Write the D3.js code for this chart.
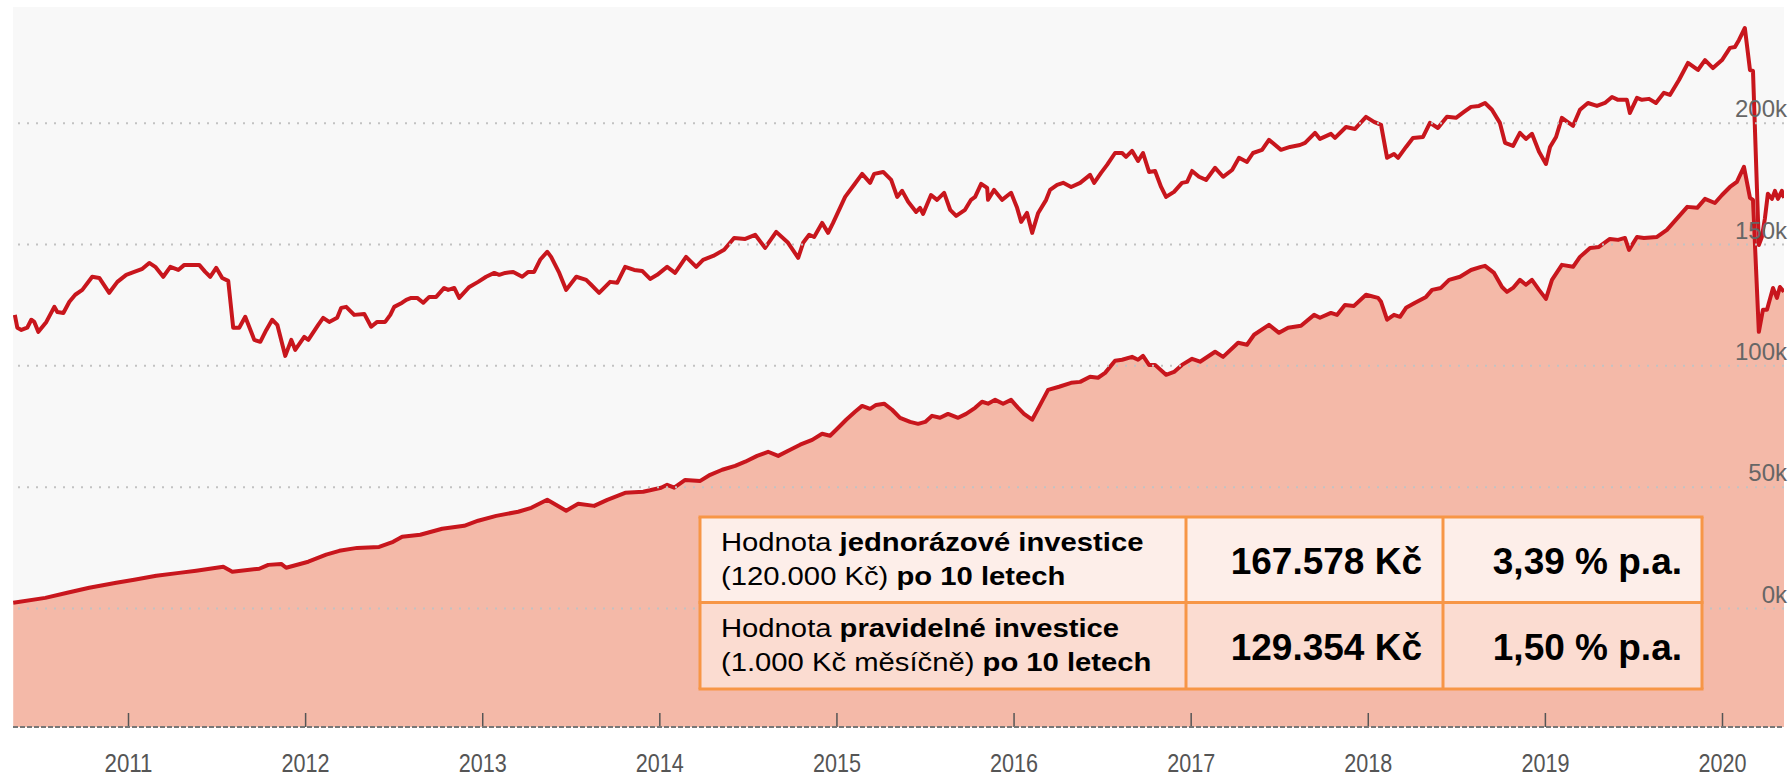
<!DOCTYPE html>
<html>
<head>
<meta charset="utf-8">
<script src="https://cdn.jsdelivr.net/npm/d3@7"></script>
<style>
  body { margin: 0; background: #fff; }
  svg { display: block; font-family: "Liberation Sans", Arial, sans-serif; }
</style>
</head>
<body>
<script>

var width = 1789;
var height = 779;

// year ticks on the bottom, value ticks (in thousands) on the right
var yearTicks = [2011, 2012, 2013, 2014, 2015, 2016, 2017, 2018, 2019, 2020];
var valueTicks = [0, 50, 100, 150, 200];

// jednorázová investice (120.000 Kč), [year, value in k]
var lumpSum = [
  [2010.361,120.8],[2010.375,115.5],[2010.398,114.6],[2010.431,115.5],[2010.454,118.8],[2010.471,117.9],[2010.494,113.8],[2010.539,117.9],
  [2010.584,124.1],[2010.601,122.0],[2010.635,121.6],[2010.669,126.2],[2010.702,129.1],[2010.742,131.1],[2010.798,136.5],[2010.838,136.0],
  [2010.894,129.9],[2010.940,134.4],[2010.990,137.3],[2011.035,138.5],[2011.081,139.8],[2011.120,142.2],[2011.154,140.6],[2011.199,136.5],
  [2011.239,140.6],[2011.284,139.3],[2011.318,141.4],[2011.402,141.4],[2011.436,138.5],[2011.464,136.5],[2011.498,140.2],[2011.532,136.0],
  [2011.566,134.8],[2011.594,115.5],[2011.628,115.5],[2011.662,120.0],[2011.713,110.5],[2011.747,109.7],[2011.781,114.6],[2011.814,118.8],
  [2011.843,116.7],[2011.888,103.9],[2011.922,110.5],[2011.944,106.4],[2011.995,111.7],[2012.018,110.5],[2012.074,116.7],[2012.102,119.6],
  [2012.136,117.9],[2012.181,119.6],[2012.204,123.7],[2012.232,124.1],[2012.277,120.8],[2012.334,121.2],[2012.373,115.9],[2012.407,117.9],
  [2012.452,117.9],[2012.481,120.8],[2012.503,124.1],[2012.548,125.8],[2012.571,127.0],[2012.599,127.8],[2012.633,127.8],[2012.667,125.8],
  [2012.701,128.2],[2012.740,128.2],[2012.785,131.9],[2012.808,131.1],[2012.842,131.9],[2012.870,127.8],[2012.927,132.3],[2012.977,134.4],
  [2013.022,136.5],[2013.068,138.1],[2013.096,137.3],[2013.130,138.1],[2013.175,138.5],[2013.226,136.5],[2013.260,138.5],[2013.293,138.5],
  [2013.327,143.5],[2013.367,146.8],[2013.389,144.7],[2013.435,138.1],[2013.474,131.1],[2013.531,136.5],[2013.587,135.2],[2013.615,133.2],
  [2013.660,129.9],[2013.722,134.4],[2013.762,134.0],[2013.807,140.6],[2013.858,139.3],[2013.903,138.9],[2013.948,135.6],[2013.988,137.3],
  [2014.044,140.6],[2014.089,138.1],[2014.151,144.7],[2014.208,140.6],[2014.247,143.5],[2014.304,145.1],[2014.366,147.6],[2014.422,152.5],
  [2014.485,152.1],[2014.541,153.8],[2014.597,148.4],[2014.660,155.0],[2014.727,150.5],[2014.784,144.3],[2014.812,150.5],[2014.846,153.8],
  [2014.874,152.9],[2014.919,158.7],[2014.953,154.6],[2014.981,158.7],[2015.049,169.4],[2015.100,174.4],[2015.145,178.9],[2015.190,175.2],
  [2015.213,178.9],[2015.264,179.7],[2015.309,176.4],[2015.343,169.4],[2015.371,171.9],[2015.405,167.4],[2015.450,163.2],[2015.472,164.9],
  [2015.489,162.4],[2015.534,170.2],[2015.568,168.2],[2015.608,171.1],[2015.642,164.1],[2015.676,161.6],[2015.726,164.1],[2015.760,168.2],
  [2015.783,169.4],[2015.817,174.8],[2015.851,173.1],[2015.856,168.2],[2015.890,172.3],[2015.935,168.2],[2015.986,171.1],[2016.020,164.9],
  [2016.043,159.1],[2016.076,162.8],[2016.105,154.6],[2016.139,162.8],[2016.184,168.2],[2016.206,172.3],[2016.246,174.4],[2016.280,175.2],
  [2016.325,173.5],[2016.376,175.2],[2016.432,178.5],[2016.455,175.2],[2016.494,179.3],[2016.528,182.6],[2016.573,187.5],[2016.613,187.5],
  [2016.635,185.9],[2016.669,188.4],[2016.703,184.2],[2016.731,187.5],[2016.765,179.7],[2016.799,180.1],[2016.833,173.5],[2016.861,169.4],
  [2016.906,171.5],[2016.951,175.2],[2016.980,175.6],[2017.008,180.1],[2017.047,177.7],[2017.087,176.4],[2017.138,181.4],[2017.183,177.7],
  [2017.234,180.5],[2017.273,185.5],[2017.318,183.8],[2017.352,187.5],[2017.403,188.8],[2017.442,192.9],[2017.510,188.8],[2017.561,190.0],
  [2017.617,190.8],[2017.646,191.7],[2017.702,195.8],[2017.730,193.3],[2017.792,195.4],[2017.815,193.7],[2017.877,198.2],[2017.928,197.4],
  [2017.990,202.4],[2018.035,200.3],[2018.075,199.1],[2018.109,185.5],[2018.148,187.1],[2018.171,185.5],[2018.216,190.0],[2018.255,193.7],
  [2018.312,194.1],[2018.351,199.9],[2018.396,197.8],[2018.447,202.4],[2018.498,202.0],[2018.543,204.4],[2018.583,206.5],[2018.628,206.9],
  [2018.662,208.1],[2018.701,205.3],[2018.746,199.9],[2018.775,191.7],[2018.820,190.4],[2018.859,195.8],[2018.893,193.3],[2018.927,195.4],
  [2018.967,188.0],[2019.006,183.0],[2019.029,190.0],[2019.063,194.1],[2019.096,202.0],[2019.159,198.7],[2019.198,205.3],[2019.243,208.1],
  [2019.294,206.9],[2019.339,208.1],[2019.379,210.6],[2019.413,209.4],[2019.463,209.4],[2019.480,204.0],[2019.520,210.2],[2019.548,209.4],
  [2019.588,209.8],[2019.627,208.1],[2019.672,212.3],[2019.706,211.4],[2019.757,217.6],[2019.808,224.6],[2019.864,221.7],[2019.904,225.8],
  [2019.949,222.5],[2020.000,225.8],[2020.045,230.8],[2020.073,231.2],[2020.096,234.1],[2020.129,239.0],[2020.158,221.7],[2020.175,221.3],
  [2020.208,149.6],[2020.225,152.9],[2020.242,160.4],[2020.259,170.7],[2020.282,168.6],[2020.299,171.9],[2020.316,168.6],[2020.338,171.9],
  [2020.350,169.0]
];

// pravidelná investice (1.000 Kč měsíčně), [year, value in k]
var regular = [
  [2010.352,2.2],[2010.533,4.2],[2010.657,6.3],[2010.781,8.4],[2010.934,10.4],[2011.035,11.7],[2011.160,13.3],[2011.289,14.5],
  [2011.385,15.4],[2011.538,17.0],[2011.589,15.0],[2011.741,16.2],[2011.792,17.8],[2011.865,18.2],[2011.893,16.6],[2012.018,19.1],
  [2012.119,22.0],[2012.193,23.6],[2012.294,24.8],[2012.418,25.2],[2012.497,27.3],[2012.548,29.4],[2012.650,30.2],[2012.774,32.7],
  [2012.898,33.9],[2012.977,36.0],[2013.079,38.0],[2013.203,39.7],[2013.277,41.3],[2013.367,44.6],[2013.474,40.1],[2013.542,43.0],
  [2013.632,42.1],[2013.706,44.6],[2013.807,47.5],[2013.909,47.9],[2014.010,49.6],[2014.044,50.8],[2014.084,49.6],[2014.146,52.8],
  [2014.231,52.4],[2014.287,54.9],[2014.355,57.0],[2014.428,58.6],[2014.485,60.3],[2014.552,62.7],[2014.614,64.4],[2014.671,62.7],
  [2014.739,65.2],[2014.795,67.3],[2014.863,69.3],[2014.919,71.8],[2014.964,71.0],[2015.010,74.3],[2015.055,77.6],[2015.105,80.9],
  [2015.145,83.3],[2015.190,82.1],[2015.224,83.7],[2015.269,84.2],[2015.314,81.7],[2015.359,78.4],[2015.416,76.7],[2015.461,75.9],
  [2015.501,76.7],[2015.540,79.2],[2015.585,78.4],[2015.630,80.0],[2015.687,78.4],[2015.732,80.0],[2015.783,82.5],[2015.822,85.0],
  [2015.856,84.2],[2015.896,85.8],[2015.941,84.2],[2015.986,85.8],[2016.026,82.5],[2016.059,80.0],[2016.105,77.6],[2016.150,83.7],
  [2016.195,89.9],[2016.257,91.2],[2016.325,92.8],[2016.376,93.2],[2016.432,95.3],[2016.477,94.9],[2016.517,96.9],[2016.573,101.9],
  [2016.613,102.3],[2016.669,103.5],[2016.703,102.3],[2016.731,103.9],[2016.765,100.2],[2016.799,100.2],[2016.861,96.1],[2016.906,97.3],
  [2016.951,100.2],[2017.008,102.7],[2017.053,101.5],[2017.138,105.6],[2017.183,103.5],[2017.268,109.3],[2017.318,108.5],[2017.358,112.6],
  [2017.442,116.7],[2017.499,113.4],[2017.550,115.5],[2017.623,116.3],[2017.697,120.8],[2017.730,119.6],[2017.792,121.6],[2017.826,120.8],
  [2017.871,124.9],[2017.922,124.5],[2017.990,129.1],[2018.058,127.8],[2018.075,126.2],[2018.109,118.8],[2018.148,120.8],[2018.182,120.0],
  [2018.216,123.7],[2018.267,125.8],[2018.329,128.2],[2018.363,131.1],[2018.413,131.9],[2018.459,135.2],[2018.521,136.5],[2018.583,139.3],
  [2018.639,140.6],[2018.662,141.0],[2018.713,138.1],[2018.758,132.3],[2018.786,130.3],[2018.820,131.9],[2018.859,135.2],[2018.893,133.2],
  [2018.927,135.2],[2018.967,131.1],[2019.006,127.4],[2019.040,135.2],[2019.096,141.4],[2019.159,140.6],[2019.198,144.7],[2019.255,148.4],
  [2019.305,148.8],[2019.367,152.1],[2019.413,151.7],[2019.452,152.5],[2019.475,147.6],[2019.520,152.9],[2019.559,152.5],[2019.633,152.9],
  [2019.689,155.8],[2019.729,159.1],[2019.804,165.3],[2019.860,164.9],[2019.904,168.6],[2019.960,166.9],[2020.000,170.2],[2020.045,173.5],
  [2020.084,175.6],[2020.124,181.8],[2020.158,169.0],[2020.175,168.2],[2020.208,113.8],[2020.231,122.9],[2020.254,122.9],[2020.288,131.9],
  [2020.310,127.8],[2020.327,132.3],[2020.350,130.3]
];

// summary table
var rowLabels = [
  [[["Hodnota ", "normal"], ["jednorázové investice", "bold"]], [["(120.000 Kč) ", "normal"], ["po 10 letech", "bold"]]],
  [[["Hodnota ", "normal"], ["pravidelné investice", "bold"]], [["(1.000 Kč měsíčně) ", "normal"], ["po 10 letech", "bold"]]]
];
var rowValues = ["167.578 Kč", "129.354 Kč"];
var rowRates = ["3,39 % p.a.", "1,50 % p.a."];

var red = "#c8161d";
var fill = "#f4b9a8";

var plotLeft = 13, plotRight = 1784, plotTop = 7, plotBottom = 727;

var svg = d3.select("body").append("svg")
  .attr("width", width)
  .attr("height", height);

var x = d3.scaleLinear().domain([2011, 2020]).range([128, 1722]);
var y = d3.scaleLinear().domain([-49, 250]).range([plotBottom, 1.3]);

svg.append("defs").append("clipPath").attr("id", "plotclip")
  .append("rect")
  .attr("x", plotLeft).attr("y", 0)
  .attr("width", plotRight - plotLeft).attr("height", plotBottom);

// background
svg.append("rect")
  .attr("x", plotLeft).attr("y", plotTop)
  .attr("width", plotRight - plotLeft).attr("height", plotBottom - plotTop)
  .attr("fill", "#f8f8f8");

var plot = svg.append("g").attr("clip-path", "url(#plotclip)");

// regular investment area
plot.append("path")
  .datum(regular)
  .attr("fill", fill)
  .attr("d", d3.area()
    .x(function(d) { return x(d[0]); })
    .y0(plotBottom)
    .y1(function(d) { return y(d[1]); }));

// gridlines + value labels
var yAxis = d3.axisLeft(y)
  .tickValues(valueTicks)
  .tickSize(plotRight - plotLeft)
  .tickFormat(function(d) { return d + "k"; });

var gy = svg.append("g")
  .attr("transform", "translate(" + plotRight + ",0)")
  .call(yAxis);
gy.select(".domain").remove();
gy.selectAll(".tick line")
  .attr("stroke", "#c2c2c2")
  .attr("stroke-width", 2)
  .attr("stroke-dasharray", "2,7");
gy.selectAll(".tick text")
  .attr("x", 3)
  .attr("dy", "-6")
  .attr("fill", "#666")
  .style("font-size", "24px")
  .style("font-family", "'Liberation Sans', Arial, sans-serif");

// time axis
var xAxis = d3.axisBottom(x)
  .tickValues(yearTicks)
  .tickSize(-14)
  .tickSizeOuter(0)
  .tickFormat(d3.format("d"));

var gx = svg.append("g")
  .attr("transform", "translate(0," + plotBottom + ")")
  .call(xAxis);
gx.select(".domain").remove();
gx.selectAll(".tick line").attr("stroke", "#555").attr("stroke-width", 1.5);
gx.selectAll(".tick text")
  .attr("y", 45)
  .attr("dy", 0)
  .attr("fill", "#555")
  .attr("textLength", 48)
  .attr("lengthAdjust", "spacingAndGlyphs")
  .style("font-size", "26px")
  .style("font-family", "'Liberation Sans', Arial, sans-serif");

svg.append("line")
  .attr("x1", plotLeft).attr("x2", plotRight)
  .attr("y1", plotBottom).attr("y2", plotBottom)
  .attr("stroke", "#777")
  .attr("stroke-width", 2)
  .attr("stroke-dasharray", "5,2");

// lines
var line = d3.line()
  .x(function(d) { return x(d[0]); })
  .y(function(d) { return y(d[1]); })
  .curve(d3.curveLinear);

plot.append("path")
  .datum(regular)
  .attr("fill", "none")
  .attr("stroke", red)
  .attr("stroke-width", 4)
  .attr("stroke-linejoin", "round")
  .attr("d", line);

plot.append("path")
  .datum(lumpSum)
  .attr("fill", "none")
  .attr("stroke", red)
  .attr("stroke-width", 4)
  .attr("stroke-linejoin", "round")
  .attr("d", line);

// table
var colX = [700, 1186, 1443, 1702];
var rowY = [517, 602.5, 689];
var rowFill = ["#fdeee9", "#fbdcd1"];

var table = svg.append("g");

table.selectAll("rect.row")
  .data(rowLabels)
  .enter().append("rect")
  .attr("class", "row")
  .attr("x", colX[0])
  .attr("y", function(d, i) { return rowY[i]; })
  .attr("width", colX[3] - colX[0])
  .attr("height", function(d, i) { return rowY[i + 1] - rowY[i]; })
  .attr("fill", function(d, i) { return rowFill[i]; });

rowLabels.forEach(function(lines, i) {
  lines.forEach(function(parts, j) {
    var t = table.append("text")
      .attr("transform", "translate(721," + (rowY[i] + 34 + j * 34) + ") scale(1.17,1)")
      .attr("fill", "#000")
      .style("font-size", "25px");
    parts.forEach(function(p) {
      t.append("tspan").attr("font-weight", p[1]).text(p[0]);
    });
  });
  table.append("text")
    .attr("x", colX[2] - 21)
    .attr("y", rowY[i] + 57)
    .attr("text-anchor", "end")
    .attr("font-weight", "bold")
    .style("font-size", "37px")
    .text(rowValues[i]);
  table.append("text")
    .attr("x", colX[3] - 20)
    .attr("y", rowY[i] + 57)
    .attr("text-anchor", "end")
    .attr("font-weight", "bold")
    .style("font-size", "37px")
    .text(rowRates[i]);
});

var border = "#f79646";
rowY.forEach(function(yy) {
  table.append("line")
    .attr("x1", colX[0] - 1.5).attr("x2", colX[3] + 1.5)
    .attr("y1", yy).attr("y2", yy)
    .attr("stroke", border).attr("stroke-width", 3);
});
colX.forEach(function(xx) {
  table.append("line")
    .attr("x1", xx).attr("x2", xx)
    .attr("y1", rowY[0]).attr("y2", rowY[2])
    .attr("stroke", border).attr("stroke-width", 3);
});

</script>
</body>
</html>
